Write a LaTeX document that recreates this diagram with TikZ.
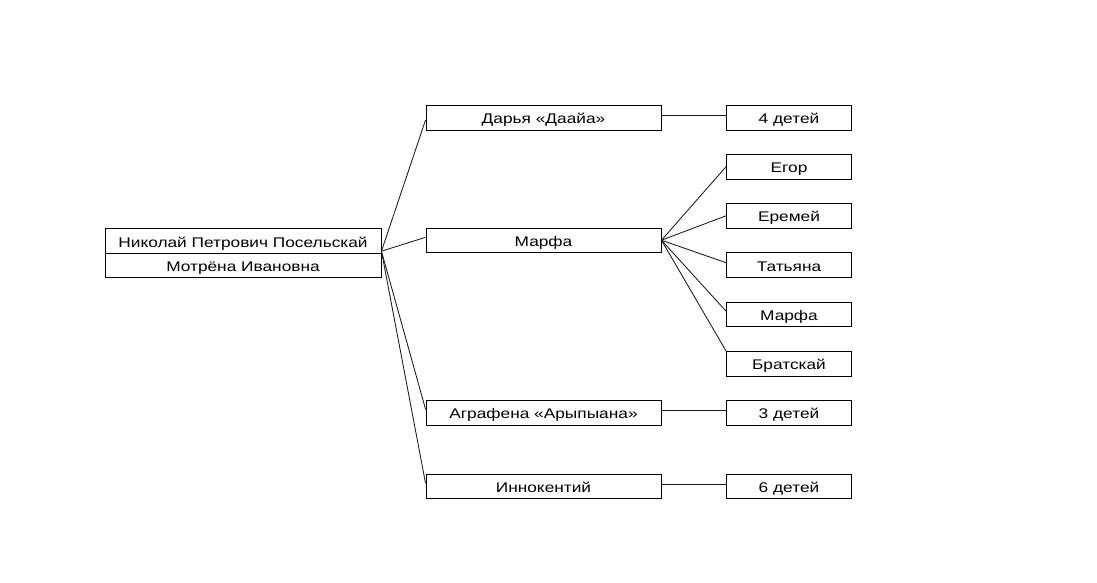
\documentclass[tikz,border=0pt]{standalone}
\usepackage{fontspec}
\setmainfont{Liberation Sans}[FakeStretch=1.235]
\begin{document}
\begin{tikzpicture}[x=1pt,y=-1pt,
  box/.style={draw, line width=0.9pt, minimum height=24.5pt, inner sep=0pt, text height=12pt, text depth=0pt, font=\fontsize{14}{16}\selectfont, text=black},
  rootbox/.style={box, minimum width=276pt},
  midbox/.style={box, minimum width=235pt},
  kidbox/.style={box, minimum width=125pt},
  link/.style={draw=black!90, line width=0.85pt}]
\useasboundingbox (0,0) rectangle (1097,583);
\node[rootbox] (rootA) at (243,241) {Николай Петрович Посельскай};
\node[rootbox] (rootB) at (243,265.5) {Мотрёна Ивановна};
\node[midbox] (darya) at (543.5,117.75) {Дарья «Даайа»};
\node[midbox] (marfa) at (543.5,240.2) {Марфа};
\node[midbox] (agra) at (543.5,412.8) {Аграфена «Арыпыана»};
\node[midbox] (inno) at (543.5,486.3) {Иннокентий};
\node[kidbox] (k4) at (789,117.75) {4 детей};
\node[kidbox] (egor) at (789,166.7) {Егор};
\node[kidbox] (erem) at (789,215.8) {Еремей};
\node[kidbox] (tat) at (789,265) {Татьяна};
\node[kidbox] (marfa2) at (789,314.5) {Марфа};
\node[kidbox] (brat) at (789,363.7) {Братскай};
\node[kidbox] (k3) at (789,412.8) {3 детей};
\node[kidbox] (k6) at (789,486.3) {6 детей};
\coordinate (r) at ([yshift=2.5pt]rootA.south east);
\draw[link] (r) -- ([yshift=-2.25pt]darya.west);
\draw[link] (r) -- ([yshift=2.9pt]marfa.west);
\draw[link] (r) -- ([yshift=3.5pt]agra.west);
\draw[link] (r) -- ([yshift=3pt]inno.west);
\draw[link] ([yshift=2.2pt]darya.east) -- ([yshift=2.2pt]k4.west);
\draw[link] ([yshift=2pt]agra.east) -- ([yshift=2pt]k3.west);
\draw[link] ([yshift=2pt]inno.east) -- ([yshift=2pt]k6.west);
\draw[link] (marfa.east) -- (egor.west);
\draw[link] (marfa.east) -- (erem.west);
\draw[link] (marfa.east) -- ([yshift=2.3pt]tat.west);
\draw[link] (marfa.east) -- ([yshift=3.3pt]marfa2.west);
\draw[link] (marfa.east) -- (brat.north west);
\end{tikzpicture}
\end{document}
